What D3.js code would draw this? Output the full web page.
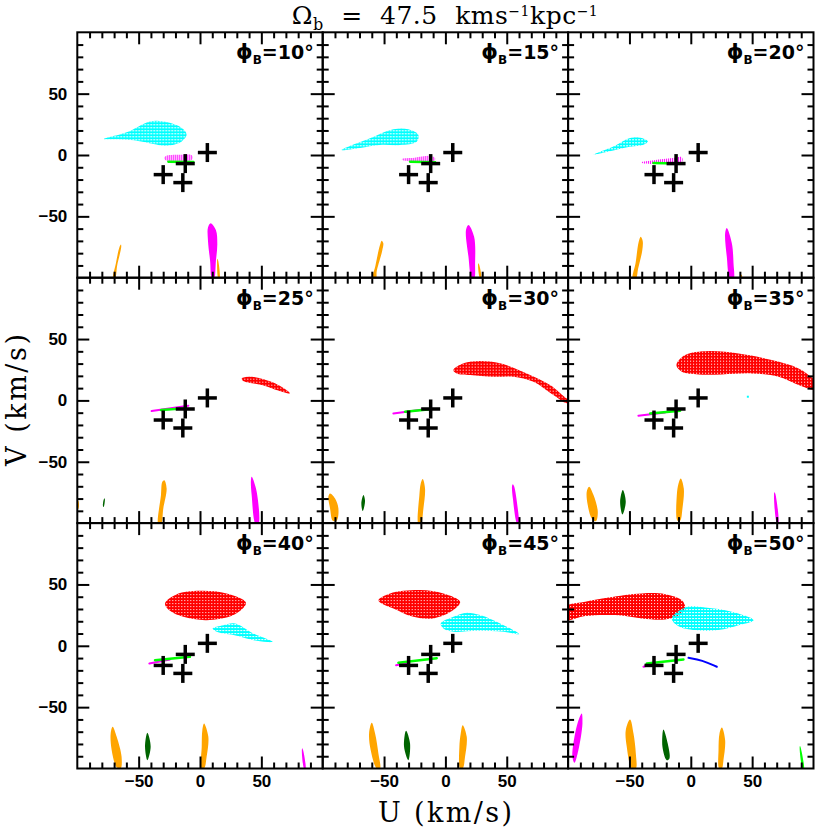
<!DOCTYPE html>
<html>
<head>
<meta charset="utf-8">
<script src="https://cdn.jsdelivr.net/npm/d3@7"></script>
<style>
body { margin: 0; background: #fff; }
svg { display: block; }
</style>
</head>
<body>
<div id="chart"></div>
<script>
// ---- data (U, V in km/s) ----
var phiB = [10, 15, 20, 25, 30, 35, 40, 45, 50];
var majorTicks = [-50, 0, 50];
var minorTicks = [-90, -80, -70, -60, -40, -30, -20, -10, 10, 20, 30, 40, 60, 70, 80, 90];
var domainUV = [-100, 100];

var crossUV = [[6, 2], [-12, -7], [-30, -16], [-14, -22.5]];

var cyanClouds = [
    { phi: 10, pts: [[-78.3, 13.0], [-59.8, 18.5], [-40.8, 27.4], [-29.9, 27.4], [-16.3, 23.1], [-10.9, 17.1], [-14.9, 11.1], [-27.2, 7.6], [-38, 9], [-51.6, 11.7], [-70.7, 12.8]] },
    { phi: 15, pts: [[-84.5, 4.1], [-61.4, 13.6], [-42.4, 20.9], [-30.2, 20.9], [-22, 16.3], [-23.4, 10.9], [-37, 8.2], [-53.3, 8.2], [-69.6, 5.8]] },
    { phi: 20, pts: [[-79.3, 0.3], [-61.7, 7.6], [-49.5, 13.9], [-40, 13.9], [-35, 11.1], [-38.6, 8.4], [-50.8, 6.5], [-67.1, 2.8]] },
    { phi: 40, pts: [[10.3, 14.1], [19, 16.8], [28.5, 18.2], [43.5, 10.1], [59.2, 3.3], [46.2, 4.1], [27.2, 8.7], [13.6, 11.4]] },
    { phi: 45, pts: [[-3.8, 18.2], [6.5, 23.6], [17.4, 26.9], [28.3, 25], [44.6, 18.2], [60.1, 9.5], [47.3, 11.4], [25.5, 12.2], [6.5, 11.4], [-1.6, 14.1]] },
    { phi: 50, pts: [[-15.5, 22.3], [-4.6, 31.3], [11.7, 31.3], [33.4, 27.7], [51.1, 20.9], [38.9, 16.8], [22.6, 12.8], [3.5, 12.8], [-10, 16]] }
];

var cyanSpecks = [{ phi: 35, pt: [46.5, 3] }];

var redClouds = [
    { phi: 25, pts: [[34, 17.9], [42.1, 19.3], [61.1, 13.9], [73.4, 5.7], [66.6, 7.1], [50.3, 12.5], [35.3, 15.8]] },
    { phi: 30, pts: [[6.5, 24.7], [14.7, 30.2], [28.3, 32.1], [44.6, 30.2], [66.3, 22], [85.3, 12.5], [98.9, 1.6], [104, -1], [98.9, -2.4], [88, 4.3], [71.7, 15.2], [55.4, 19.3], [39.1, 19.3], [20.1, 20.7], [9.2, 22]] },
    { phi: 35, pts: [[-11.4, 30.2], [-4.6, 37], [14.4, 40.2], [38.9, 38.3], [66, 32.9], [87.8, 26.1], [99.7, 17.9], [104, 14], [104, 8], [99.7, 8.4], [87.8, 12.5], [71.5, 19.3], [49.7, 22], [25.3, 21.2], [6.3, 21.2], [-7.3, 23.4], [-11.4, 27.4]] },
    { phi: 40, pts: [[-28.5, 34.5], [-19, 42.1], [0, 44.8], [21.7, 42.7], [37.5, 35.1], [27.2, 25], [5.4, 20.9], [-13.6, 23.6], [-24.5, 28.5]] },
    { phi: 45, pts: [[-54.6, 37.2], [-45.1, 42.7], [-20.7, 45.4], [-1.6, 42.7], [12, 35.9], [6.5, 29.1], [-9.8, 22.3], [-26.1, 23.6], [-42.4, 30.4], [-51.9, 34.5]] },
    { phi: 50, pts: [[-104, 20], [-104, 31.3], [-86.1, 35.9], [-67.1, 39.4], [-39.9, 42.7], [-20.9, 42.1], [-7.3, 37.2], [-4.6, 31.8], [-7.3, 26.4], [-20.9, 21.5], [-39.9, 22.3], [-61.7, 25], [-86.1, 24.2], [-100, 20.4]] }
];

var magentaPatches = [
    { phi: 10, pts: [[-29.3, -2.5], [-27, -0.5], [-15, 0.3], [-7, 0], [-5.8, -2], [-7, -4], [-20, -4.6], [-28, -4.2]] },
    { phi: 15, pts: [[-35.6, -3.2], [-25, -2.2], [-12, -0.8], [-8.4, -2.5], [-9, -5], [-20, -5.2], [-34, -4.5]] },
    { phi: 20, pts: [[-40.5, -6], [-30, -4.2], [-15, -2.5], [-7.3, -1.8], [-7, -5.5], [-20, -6.8], [-38, -7]] }
];

var magentaStreams = [
    { phi: 25, pts: [[-39.4, -8.7], [-9.5, -4.3]] },
    { phi: 30, pts: [[-42.4, -10.6], [-15.2, -7.1]] },
    { phi: 35, pts: [[-42.7, -12.5], [-20.9, -9.8]] },
    { phi: 40, pts: [[-41.3, -14.4], [-24.5, -11.1]] },
    { phi: 45, pts: [[-40.2, -15.8], [-31, -14]] },
    { phi: 50, pts: [[-38.6, -17.1], [-31.8, -14.9]] }
];

var greenStreams = [
    { phi: 10, pts: [[-25.8, -5.4], [-5.4, -5.7]] },
    { phi: 15, pts: [[-28.8, -5.4], [-8.4, -6]] },
    { phi: 20, pts: [[-30.4, -6.5], [-12.8, -7]] },
    { phi: 25, pts: [[-31.8, -7.9], [-12.2, -6.5]] },
    { phi: 30, pts: [[-32.9, -9.2], [-12.5, -7.3]] },
    { phi: 35, pts: [[-33.2, -10.6], [-8.7, -8.4]] },
    { phi: 40, pts: [[-36.7, -11.7], [-8.2, -9]] },
    { phi: 45, pts: [[-38.3, -13.9], [-7.1, -10.1]] },
    { phi: 50, pts: [[-35.9, -14.4], [-6, -11.1]] }
];

var blueStreams = [
    { phi: 50, pts: [[-1.9, -9.8], [9.2, -11.7], [21.2, -17.1]] }
];

var magentaBlobs = [
    { phi: 10, pts: [[8.7, -55.7], [13, -61.4], [14.1, -72.6], [13, -86], [11.4, -101], [9.8, -101], [8.2, -86], [6.5, -69.8], [6.5, -59]] },
    { phi: 15, pts: [[18.8, -57], [23.4, -66.6], [24.2, -88], [23.4, -101], [21.5, -101], [18.8, -83], [16.8, -61]] },
    { phi: 20, pts: [[29.3, -59.5], [33.4, -71.7], [34.8, -88], [34.8, -101], [32, -101], [29.3, -82.6], [28, -63.6]] },
    { phi: 25, pts: [[42.1, -62.2], [46.2, -74.5], [47.6, -101], [45.4, -101], [42.1, -77.2], [41.5, -65]] },
    { phi: 30, pts: [[54.9, -68.3], [56, -70], [59.8, -95], [60.2, -100.5], [58.6, -100.5], [55, -80], [54.3, -70]] },
    { phi: 35, pts: [[68.2, -74.8], [68.9, -76], [71.3, -100.5], [70.3, -100.5], [67.8, -77]] },
    { phi: 40, pts: [[83.3, -83.5], [84, -85], [86, -100.5], [85, -100.5], [83, -86]] },
    { phi: 50, pts: [[-88.9, -55.2], [-88.3, -63.3], [-91.6, -85], [-94.8, -95.4], [-96.5, -90.5], [-94.3, -71.5], [-91, -59.2]] }
];

var orangeBlobs = [
    { phi: 10, pts: [[-64.4, -73], [-64.2, -75], [-67.5, -90], [-69.2, -100.5], [-70.8, -100.5], [-68.5, -88], [-65.6, -75]] },
    { phi: 10, pts: [[14.1, -84.5], [14.8, -86], [15.9, -100.5], [14.9, -100.5], [13.9, -87]] },
    { phi: 15, pts: [[-51.9, -69.8], [-50.6, -72], [-51.5, -78], [-56, -95], [-56.5, -100.5], [-59.2, -100.5], [-57, -90], [-53.5, -74]] },
    { phi: 15, pts: [[26.9, -88.3], [27.7, -90], [29.2, -100.5], [28.2, -100.5], [26.6, -90]] },
    { phi: 20, pts: [[-40.8, -66.6], [-39.2, -70], [-39.6, -78], [-43, -93], [-44.6, -100.5], [-47.3, -100.5], [-45, -88], [-42.5, -71]] },
    { phi: 20, pts: [[40.8, -97.3], [41.6, -98], [41.8, -100.5], [40.9, -100.5]] },
    { phi: 25, pts: [[-29.1, -65], [-27.2, -71.7], [-29.9, -88], [-31.8, -101], [-34, -101], [-31.8, -77.2], [-30.7, -66.3]] },
    { phi: 25, pts: [[-100.5, -80], [-99, -82], [-99, -88], [-100.5, -89]] },
    { phi: 30, pts: [[-18.5, -64.1], [-16.6, -71.7], [-17.9, -88], [-20.1, -101], [-22, -101], [-21.2, -77.2], [-20.1, -67.7]] },
    { phi: 30, pts: [[-94, -75.8], [-89.9, -79.9], [-87.2, -88], [-88.6, -98], [-91.8, -98], [-94, -88], [-95.4, -78.5]] },
    { phi: 35, pts: [[-8.2, -63.6], [-5.7, -71.7], [-6.8, -88], [-8.7, -98], [-10.9, -98], [-11.4, -77.2], [-10, -67.7]] },
    { phi: 35, pts: [[-82.9, -70.4], [-79.3, -77.2], [-75.8, -90.8], [-77.4, -98.4], [-80.7, -96.2], [-84, -85.3], [-84.8, -74.5]] },
    { phi: 40, pts: [[-71.2, -66], [-67.9, -74.2], [-63.9, -90.5], [-64.7, -100], [-67.9, -99], [-72, -85], [-72.8, -71.5]] },
    { phi: 40, pts: [[3.3, -63.3], [6.8, -74.2], [5.4, -90.5], [3.3, -100], [1.1, -100], [1.4, -82.3], [1.9, -68.8]] },
    { phi: 45, pts: [[-60, -62.8], [-57.3, -71.5], [-54.6, -87.8], [-53.3, -100], [-56, -100], [-60.9, -85], [-62.2, -71.5]] },
    { phi: 45, pts: [[14.1, -64.7], [17.4, -74.2], [16, -90.5], [14.1, -100], [12, -100], [11.4, -82.3], [12.5, -71.5]] },
    { phi: 50, pts: [[-49.5, -60.1], [-46.7, -71.5], [-44.8, -87.8], [-44.8, -100], [-48.1, -100], [-52.2, -82.3], [-53, -68.8]] },
    { phi: 50, pts: [[25.3, -66.6], [28, -76.9], [26.6, -93.2], [25.3, -100], [23.1, -100], [22.6, -85], [23.4, -71.5]] }
];

var darkGreenBlobs = [
    { phi: 25, pts: [[-77.8, -79.7], [-77.5, -81], [-78.5, -86.9], [-79.1, -86], [-78.5, -81]] },
    { phi: 30, pts: [[-66.8, -77.2], [-65.5, -82], [-67.4, -90.2], [-68.5, -84]] },
    { phi: 35, pts: [[-55.4, -73.1], [-53, -82.6], [-55.7, -93], [-57.6, -82.6]] },
    { phi: 40, pts: [[-42.9, -70.9], [-40.2, -82.3], [-42.9, -93.2], [-44.8, -82.3]] },
    { phi: 45, pts: [[-32.1, -69.3], [-28.8, -79.6], [-30.2, -93.2], [-33.7, -82.3]] },
    { phi: 50, pts: [[-22.3, -68.2], [-18.8, -79.6], [-17.4, -91.8], [-19.6, -93.2], [-23.1, -82.3]] }
];

var greenBlobs = [
    { phi: 50, pts: [[89, -81.6], [89.6, -83], [92.2, -100.5], [91.3, -100.5], [88.7, -83]] }
];

// ---- layout ----
var UVGrid = function(container) {
    this.chart = document.getElementById(container);
    this.cx = 830;
    this.cy = 830;
    this.left = 77.3;
    this.top = 32.3;
    this.size = 245.4;

    this.svg = d3.select(this.chart).append("svg")
        .attr("width", this.cx)
        .attr("height", this.cy);

    this.x = d3.scaleLinear().domain(domainUV).range([0, this.size]);
    this.y = d3.scaleLinear().domain(domainUV).range([this.size, 0]);

    this.makeDefs();
    this.draw();
}

UVGrid.prototype.makeDefs = function() {
    var defs = this.svg.append("defs");
    defs.append("clipPath").attr("id", "panelClip")
        .append("rect").attr("width", this.size).attr("height", this.size);

    var cyan = defs.append("pattern").attr("id", "dotsCyan")
        .attr("patternUnits", "userSpaceOnUse").attr("width", 3).attr("height", 3);
    cyan.append("rect").attr("width", 3).attr("height", 2).attr("fill", "#00ffff");
    cyan.append("rect").attr("y", 2).attr("width", 1).attr("height", 1).attr("fill", "#00ffff");

    var red = defs.append("pattern").attr("id", "dotsRed")
        .attr("patternUnits", "userSpaceOnUse").attr("width", 3).attr("height", 3);
    red.append("rect").attr("width", 3).attr("height", 3).attr("fill", "#ff0000");
    red.append("rect").attr("x", 2).attr("y", 2).attr("width", 1).attr("height", 1).attr("fill", "#ffffff");

    var mag = defs.append("pattern").attr("id", "dotsMagenta")
        .attr("patternUnits", "userSpaceOnUse").attr("width", 2).attr("height", 3);
    mag.append("rect").attr("width", 1).attr("height", 3).attr("fill", "#ff00ff");
}

UVGrid.prototype.draw = function() {
    var self = this;
    phiB.forEach(function(phi, i) {
        var col = i % 3, row = Math.floor(i / 3);
        var g = self.svg.append("g")
            .attr("transform", "translate(" + (self.left + col * self.size) + "," + (self.top + row * self.size) + ")");
        self.drawPanel(g, phi, col, row);
    });

    // titles
    var title = this.svg.append("text")
        .attr("x", 445).attr("y", 24)
        .attr("text-anchor", "middle")
        .attr("font-family", "DejaVu Serif, serif")
        .attr("font-size", 25)
        .attr("word-spacing", 9)
        .attr("letter-spacing", 0.5);
    title.append("tspan").text("Ω");
    title.append("tspan").attr("dy", 6).attr("font-size", 16).text("b");
    title.append("tspan").attr("dy", -6).text(" = 47.5 kms");
    title.append("tspan").attr("dy", -8).attr("font-size", 14).text("−1");
    title.append("tspan").attr("dy", 8).text("kpc");
    title.append("tspan").attr("dy", -8).attr("font-size", 14).text("−1");

    this.svg.append("text")
        .attr("x", 445).attr("y", 822)
        .attr("text-anchor", "middle")
        .attr("font-family", "DejaVu Serif, serif")
        .attr("font-size", 27)
        .attr("textLength", 134)
        .attr("lengthAdjust", "spacing")
        .text("U (km/s)");

    this.svg.append("text")
        .attr("transform", "translate(26,400) rotate(-90)")
        .attr("text-anchor", "middle")
        .attr("font-family", "DejaVu Serif, serif")
        .attr("font-size", 27)
        .attr("textLength", 132)
        .attr("lengthAdjust", "spacing")
        .text("V (km/s)");
}

UVGrid.prototype.drawPanel = function(g, phi, col, row) {
    var x = this.x, y = this.y, size = this.size;

    var blob = d3.line()
        .x(function(d) { return x(d[0]); })
        .y(function(d) { return y(d[1]); })
        .curve(d3.curveCatmullRomClosed.alpha(0.5));
    var stream = d3.line()
        .x(function(d) { return x(d[0]); })
        .y(function(d) { return y(d[1]); })
        .curve(d3.curveBasis);

    var content = g.append("g").attr("clip-path", "url(#panelClip)");

    function fillLayer(list, fill) {
        content.selectAll(null)
            .data(list.filter(function(d) { return d.phi === phi; }))
            .enter().append("path")
            .attr("d", function(d) { return blob(d.pts); })
            .attr("fill", fill);
    }
    function lineLayer(list, colour, width) {
        content.selectAll(null)
            .data(list.filter(function(d) { return d.phi === phi; }))
            .enter().append("path")
            .attr("d", function(d) { return stream(d.pts); })
            .attr("fill", "none")
            .attr("stroke", colour)
            .attr("stroke-width", width)
            .attr("stroke-linecap", "round");
    }

    fillLayer(orangeBlobs, "#ffa500");
    fillLayer(darkGreenBlobs, "#006400");
    fillLayer(magentaBlobs, "#ff00ff");
    fillLayer(greenBlobs, "#00ff00");
    fillLayer(redClouds, "url(#dotsRed)");
    fillLayer(cyanClouds, "url(#dotsCyan)");
    fillLayer(magentaPatches, "url(#dotsMagenta)");
    lineLayer(magentaStreams, "#ff00ff", 2);
    lineLayer(greenStreams, "#00ff00", 2.5);
    lineLayer(blueStreams, "#0000ff", 2);

    content.selectAll(null)
        .data(cyanSpecks.filter(function(d) { return d.phi === phi; }))
        .enter().append("rect")
        .attr("x", function(d) { return x(d.pt[0]) - 1; })
        .attr("y", function(d) { return y(d.pt[1]) - 1; })
        .attr("width", 2).attr("height", 2)
        .attr("fill", "#00ffff");

    // crosses
    var arm = 9.5;
    var cross = g.append("g").attr("stroke", "#000").attr("stroke-width", 3.5);
    cross.selectAll(null).data(crossUV).enter().append("line")
        .attr("x1", function(d) { return x(d[0]) - arm; })
        .attr("x2", function(d) { return x(d[0]) + arm; })
        .attr("y1", function(d) { return y(d[1]); })
        .attr("y2", function(d) { return y(d[1]); });
    cross.selectAll(null).data(crossUV).enter().append("line")
        .attr("x1", function(d) { return x(d[0]); })
        .attr("x2", function(d) { return x(d[0]); })
        .attr("y1", function(d) { return y(d[1]) - arm; })
        .attr("y2", function(d) { return y(d[1]) + arm; });

    // axes: inward ticks on all four sides
    var fmt = d3.format("");
    function axis(gen, scale, values, len, labels, tr) {
        var a = gen(scale).tickValues(values).tickSizeInner(-len).tickSizeOuter(0)
            .tickPadding(gen === d3.axisLeft ? 10 : 6)
            .tickFormat(labels ? function(d) { return fmt(d).replace("-", "−"); } : "");
        var ag = g.append("g").attr("transform", tr).call(a);
        ag.select(".domain").remove();
        ag.selectAll(".tick line").attr("stroke", "#000").attr("stroke-width", 2);
        ag.attr("font-family", "Liberation Sans, Arial, sans-serif")
            .attr("font-size", 17)
            .attr("font-weight", "bold");
        ag.selectAll(".tick text").attr("fill", "#000");
    }
    axis(d3.axisBottom, x, majorTicks, 12, row === 2, "translate(0," + size + ")");
    axis(d3.axisBottom, x, minorTicks, 6, false, "translate(0," + size + ")");
    axis(d3.axisTop, x, majorTicks, 12, false, "translate(0,0)");
    axis(d3.axisTop, x, minorTicks, 6, false, "translate(0,0)");
    axis(d3.axisLeft, y, majorTicks, 12, col === 0, "translate(0,0)");
    axis(d3.axisLeft, y, minorTicks, 6, false, "translate(0,0)");
    axis(d3.axisRight, y, majorTicks, 12, false, "translate(" + size + ",0)");
    axis(d3.axisRight, y, minorTicks, 6, false, "translate(" + size + ",0)");

    g.append("rect")
        .attr("width", size).attr("height", size)
        .attr("fill", "none").attr("stroke", "#000").attr("stroke-width", 2);

    // panel label
    var lab = g.append("text")
        .attr("x", size - 9).attr("y", 27)
        .attr("text-anchor", "end")
        .attr("font-family", "DejaVu Sans, sans-serif")
        .attr("font-weight", "bold")
        .attr("font-size", 19);
    lab.append("tspan").attr("font-size", 21).text("ϕ");
    lab.append("tspan").attr("dy", 5).attr("font-size", 12).text("B");
    lab.append("tspan").attr("dy", -5).text("=" + phi + "°");
}

var grid = new UVGrid("chart");
</script>
</body>
</html>
